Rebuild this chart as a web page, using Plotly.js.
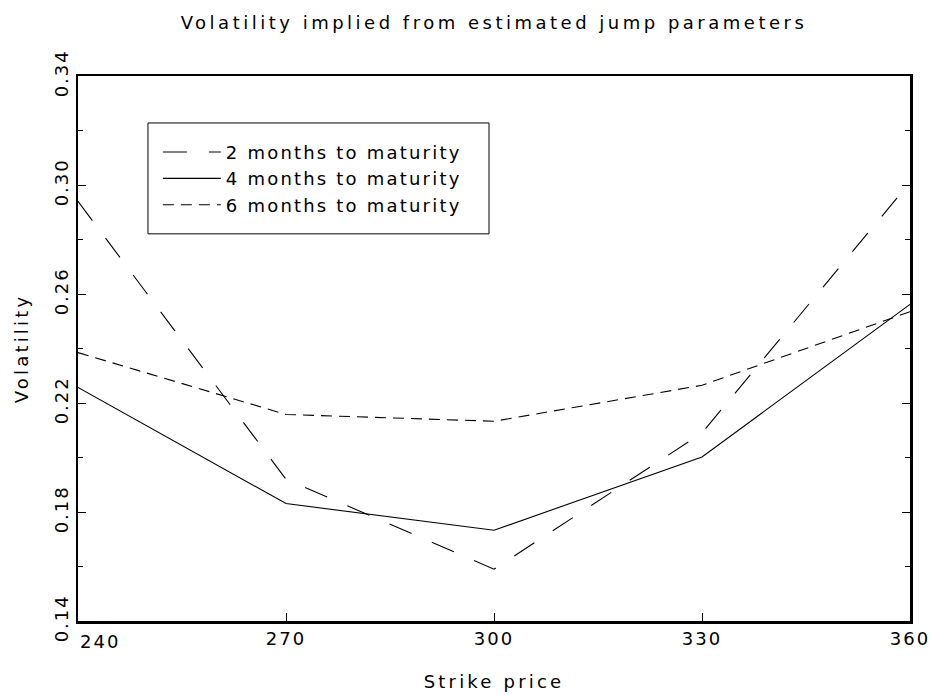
<!DOCTYPE html>
<html>
<head>
<meta charset="utf-8">
<script src="https://cdn.plot.ly/plotly-3.0.1.min.js"></script>
<style>
html,body{margin:0;padding:0;background:#fff;}
#chart{width:933px;height:695px;}
text.gtitle{letter-spacing:3.5px;}
text.xtitle, text.ytitle{letter-spacing:3.2px;}
text.legendtext{letter-spacing:2.2px;}
.xtick text, .ytick text, text.annotation-text{letter-spacing:2px;}
</style>
</head>
<body>
<div id="chart"></div>
<script>
// Data
const strikes = [240, 270, 300, 330, 360];
const vol2m = [0.294, 0.192, 0.159, 0.209, 0.301];
const vol4m = [0.2257, 0.1831, 0.1733, 0.2002, 0.2562];
const vol6m = [0.2385, 0.2158, 0.2133, 0.2265, 0.2535];
const seriesNames = ["2 months to maturity", "4 months to maturity", "6 months to maturity"];
const xTickVals = [240, 270, 300, 330, 360];
const xTickText = ["", "270", "300", "330", "360"];
const firstXLabel = "240";
const yTickVals = [0.14, 0.18, 0.22, 0.26, 0.30, 0.34];

const FONT = "DejaVu Sans, Liberation Sans, sans-serif";

const traces = [
  {x: strikes, y: vol2m, name: seriesNames[0], mode: "lines",
   line: {color: "#000", width: 1.1, dash: "24px,22px"}},
  {x: strikes, y: vol4m, name: seriesNames[1], mode: "lines",
   line: {color: "#000", width: 1.1, dash: "solid"}},
  {x: strikes, y: vol6m, name: seriesNames[2], mode: "lines",
   line: {color: "#000", width: 1.1, dash: "11px,7px"}}
];

const layout = {
  width: 933, height: 695,
  paper_bgcolor: "#fff", plot_bgcolor: "#fff",
  margin: {l: 78, r: 23, t: 76, b: 74, pad: 0},
  font: {family: FONT, color: "#000", size: 17},
  title: {text: "Volatility implied from estimated jump parameters",
          font: {family: FONT, size: 18, color: "#000"},
          x: 0.5, xref: "paper", xanchor: "center", y: 0.968, yanchor: "middle"},
  showlegend: true,
  legend: {x: 0.096, y: 0.894, xanchor: "left", yanchor: "top",
           borderwidth: 0, bgcolor: "rgba(0,0,0,0)",
           font: {family: FONT, size: 18, color: "#000"},
           itemwidth: 58, tracegroupgap: 0},
  shapes: [
    {type: "rect", xref: "paper", yref: "paper", x0: 0.0841, x1: 0.494, y0: 0.7104, y1: 0.9138,
     line: {color: "#000", width: 1}, fillcolor: "rgba(0,0,0,0)", layer: "above"}
  ],
  xaxis: {
    range: [240, 360], tickmode: "array", tickvals: xTickVals, ticktext: xTickText,
    ticks: "inside", ticklen: 8, tickwidth: 1, tickcolor: "#000",
    showline: true, linecolor: "#000", linewidth: 2.5, mirror: true,
    showgrid: false, zeroline: false,
    tickfont: {family: FONT, size: 18, color: "#000"},
    title: {text: "Strike price", font: {family: FONT, size: 18, color: "#000"}, standoff: 28}
  },
  yaxis: {
    range: [0.14, 0.34], tickmode: "array", tickvals: yTickVals, tickformat: ".2f",
    ticks: "inside", ticklen: 8, tickwidth: 1, tickcolor: "#000", tickangle: -90,
    minor: {tick0: 0.14, dtick: 0.02, ticks: "inside", ticklen: 5, tickwidth: 1, tickcolor: "#000", showgrid: false},
    showline: true, linecolor: "#000", linewidth: 2.5, mirror: "ticks",
    showgrid: false, zeroline: false,
    tickfont: {family: FONT, size: 18, color: "#000"},
    title: {text: "Volatility", font: {family: FONT, size: 18, color: "#000"}, standoff: 18}
  },
  annotations: [
    {x: 240, xref: "x", xanchor: "left", y: 0, yref: "paper", yanchor: "top", yshift: -8,
     text: firstXLabel, showarrow: false, font: {family: FONT, size: 18, color: "#000"}}
  ]
};

Plotly.newPlot("chart", traces, layout, {displayModeBar: false, staticPlot: true});
</script>
</body>
</html>
